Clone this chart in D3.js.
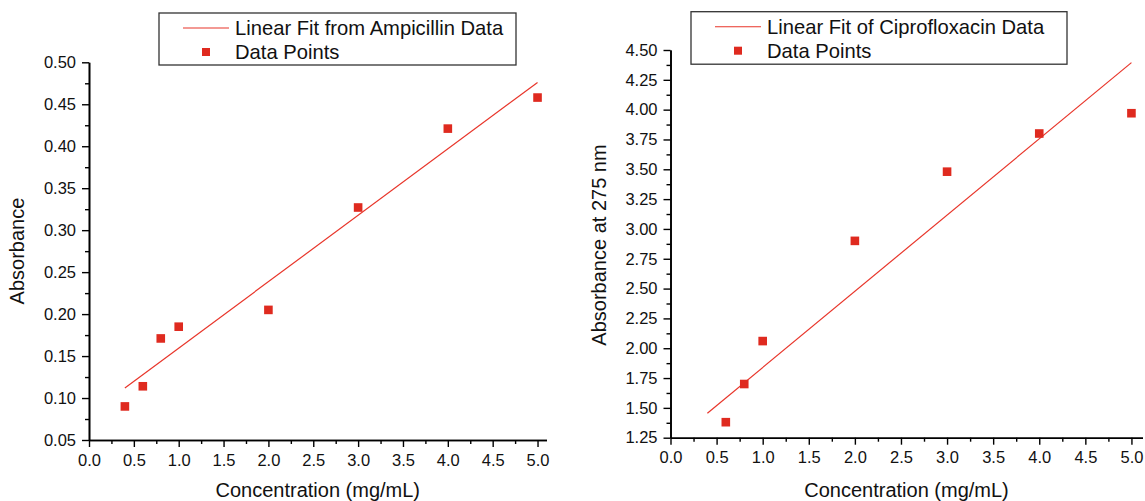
<!DOCTYPE html>
<html lang="en">
<head>
<meta charset="UTF-8">
<title>Ampicillin and Ciprofloxacin calibration</title>
<script src="https://d3js.org/d3.v7.min.js"></script>
<style>
  body { margin: 0; background: #fff; }
  svg { display: block; font-family: "Liberation Sans", Arial, sans-serif; }
</style>
</head>
<body>
<svg id="canvas" width="1145" height="501"></svg>

<script>
// data
const concAmp = [0.4, 0.6, 0.8, 1.0, 2.0, 3.0, 4.0, 5.0];
const absAmp = [0.090, 0.114, 0.171, 0.185, 0.205, 0.327, 0.421, 0.458];
const fitAmp = [[0.4, 0.112], [5.0, 0.476]];

const concCipro = [0.6, 0.8, 1.0, 2.0, 3.0, 4.0, 5.0];
const absCipro = [1.38, 1.70, 2.06, 2.90, 3.48, 3.80, 3.97];
const fitCipro = [[0.4, 1.455], [5.0, 4.394]];

const xTicks = [0, 0.5, 1, 1.5, 2, 2.5, 3, 3.5, 4, 4.5, 5];
const ampTicks = [0.05, 0.10, 0.15, 0.20, 0.25, 0.30, 0.35, 0.40, 0.45, 0.50];
const ciproTicks = [1.25, 1.50, 1.75, 2.00, 2.25, 2.50, 2.75, 3.00, 3.25, 3.50, 3.75, 4.00, 4.25, 4.50];

const red = "#df2a1f";
const svg = d3.select("#canvas");

// midpoints between major ticks -> minor ticks
function minors(t) {
    return d3.range(t.length - 1).map(i => (t[i] + t[i + 1]) / 2);
}

function panel(o) {
    const x = d3.scaleLinear().domain([0, o.xMax]).range([o.left, o.right]);
    const y = d3.scaleLinear().domain([o.yTicks[0], o.yTicks[o.yTicks.length - 1]]).range([o.bottom, o.top]);
    const g = svg.append("g");

    // minor ticks first
    g.append("g").attr("transform", `translate(0,${o.bottom})`)
        .call(d3.axisBottom(x).tickValues(minors(xTicks)).tickSize(4).tickSizeOuter(0).tickFormat(""));
    g.append("g").attr("transform", `translate(${o.left},0)`)
        .call(d3.axisLeft(y).tickValues(minors(o.yTicks)).tickSize(4).tickSizeOuter(0).tickFormat(""));

    const xa = g.append("g").attr("transform", `translate(0,${o.bottom})`)
        .call(d3.axisBottom(x).tickValues(xTicks).tickSize(7).tickSizeOuter(0).tickPadding(7)
            .tickFormat(d3.format(".1f")));
    const ya = g.append("g").attr("transform", `translate(${o.left},0)`)
        .call(d3.axisLeft(y).tickValues(o.yTicks).tickSize(7).tickSizeOuter(0).tickPadding(6)
            .tickFormat(d3.format(".2f")));

    g.selectAll(".domain").attr("stroke", "#000").attr("stroke-width", 1.6);
    g.selectAll(".tick line").attr("stroke", "#000").attr("stroke-width", 1.4);
    [xa, ya].forEach(a => a.selectAll("text")
        .attr("font-size", 16.5).attr("fill", "#111").attr("font-family", "Liberation Sans, Arial, sans-serif"));

    // fit line
    g.append("path")
        .datum(o.fit)
        .attr("fill", "none")
        .attr("stroke", "#e8352a")
        .attr("stroke-width", 1.2)
        .attr("d", d3.line().x(d => x(d[0])).y(d => y(d[1])));

    // data points
    g.selectAll(".pt")
        .data(o.xs.map((v, i) => [v, o.ys[i]]))
        .enter()
        .append("rect")
        .attr("class", "pt")
        .attr("x", d => x(d[0]) - 4.3)
        .attr("y", d => y(d[1]) - 4.3)
        .attr("width", 8.6)
        .attr("height", 8.6)
        .attr("fill", red);

    // axis titles
    g.append("text")
        .attr("x", (o.left + o.right) / 2)
        .attr("y", 497)
        .attr("text-anchor", "middle")
        .attr("font-size", 20)
        .attr("fill", "#111")
        .text("Concentration (mg/mL)");
    g.append("text")
        .attr("transform", `translate(${o.yTitleX},${o.yTitleY}) rotate(-90)`)
        .attr("text-anchor", "middle")
        .attr("font-size", 20)
        .attr("fill", "#111")
        .text(o.yTitle);

    // legend
    const lg = g.append("g");
    lg.append("rect")
        .attr("x", o.legend[0]).attr("y", o.legend[1])
        .attr("width", o.legend[2]).attr("height", o.legend[3])
        .attr("fill", "#fff").attr("stroke", "#333").attr("stroke-width", 1.3);
    const sx = o.legend[0] + 47;
    lg.append("line")
        .attr("x1", sx - 23).attr("x2", sx + 23)
        .attr("y1", o.legend[1] + 15).attr("y2", o.legend[1] + 15)
        .attr("stroke", "#e8352a").attr("stroke-width", 1.1);
    lg.append("rect")
        .attr("x", sx - 4).attr("y", o.legend[1] + 35).attr("width", 8).attr("height", 8)
        .attr("fill", red);
    lg.selectAll(".lt")
        .data([o.fitLabel, "Data Points"])
        .enter()
        .append("text")
        .attr("x", sx + 29)
        .attr("y", (d, i) => o.legend[1] + 22 + i * 24)
        .attr("font-size", 20.2)
        .attr("fill", "#111")
        .text(d => d);
}

panel({
    left: 89, right: 546.5, top: 62.3, bottom: 440, xMax: 5.1,
    yTicks: ampTicks, xs: concAmp, ys: absAmp, fit: fitAmp,
    yTitle: "Absorbance", yTitleX: 24, yTitleY: 251,
    legend: [159, 13, 357, 52], fitLabel: "Linear Fit from Ampicillin Data"
});

panel({
    left: 670.5, right: 1142.5, top: 50, bottom: 437.7, xMax: 5.12,
    yTicks: ciproTicks, xs: concCipro, ys: absCipro, fit: fitCipro,
    yTitle: "Absorbance at 275 nm", yTitleX: 606, yTitleY: 245,
    legend: [691, 11.7, 376, 52.5], fitLabel: "Linear Fit of Ciprofloxacin Data"
});
</script>
</body>
</html>
